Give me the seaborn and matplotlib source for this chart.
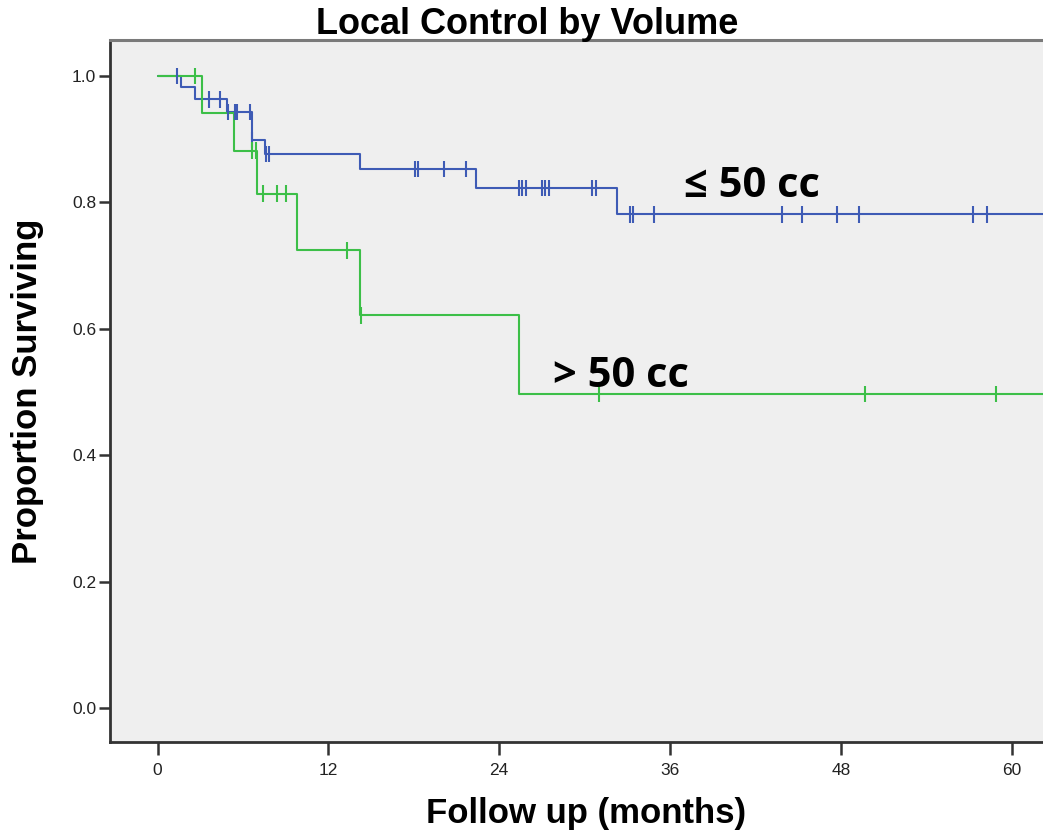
import numpy as np
import pandas as pd
import matplotlib
matplotlib.use("Agg")
import matplotlib.pyplot as plt
import seaborn as sns

# ---- data ----
group_names = ["≤ 50 cc", "> 50 cc"]

small_event_t = [0, 1.65, 2.6, 4.85, 6.6, 7.55, 14.2, 22.4, 32.3, 62.5]
small_surv = [1.0, 0.982, 0.963, 0.943, 0.899, 0.877, 0.853, 0.823, 0.781, 0.781]
small_cens = [1.4, 3.6, 4.4, 4.95, 5.45, 5.55, 6.5, 6.65, 7.65, 7.8,
              18.1, 18.3, 20.1, 21.7, 25.4, 25.6, 25.9, 27.0, 27.2, 27.5,
              30.5, 30.8, 33.2, 33.4, 34.9, 43.9, 45.3, 47.7, 49.3, 57.3, 58.3]

large_event_t = [0, 3.1, 5.4, 7.0, 9.8, 14.2, 25.4, 62.5]
large_surv = [1.0, 0.941, 0.882, 0.814, 0.724, 0.621, 0.497, 0.497]
large_cens = [2.6, 6.6, 6.9, 7.4, 8.4, 9.0, 13.3, 14.3, 31.0, 49.7, 58.9]

x_ticks = [0, 12, 24, 36, 48, 60]
y_ticks = [0.0, 0.2, 0.4, 0.6, 0.8, 1.0]

title = "Local Control by Volume"
x_label = "Follow up (months)"
y_label = "Proportion Surviving"

palette = {"≤ 50 cc": "#3E5BB5", "> 50 cc": "#3CBF48"}


def step_value(t, s, x):
    t = np.asarray(t)
    s = np.asarray(s)
    idx = np.searchsorted(t, x, side="right") - 1
    return s[idx]


curve_df = pd.concat([
    pd.DataFrame({"t": small_event_t, "s": small_surv, "g": group_names[0]}),
    pd.DataFrame({"t": large_event_t, "s": large_surv, "g": group_names[1]}),
], ignore_index=True)

cens_df = pd.concat([
    pd.DataFrame({"t": small_cens,
                  "s": step_value(small_event_t, small_surv, small_cens),
                  "g": group_names[0]}),
    pd.DataFrame({"t": large_cens,
                  "s": step_value(large_event_t, large_surv, large_cens),
                  "g": group_names[1]}),
], ignore_index=True)

sns.set_style("ticks")
plt.rcParams["font.family"] = ["Liberation Sans", "DejaVu Sans"]
plt.rcParams["text.color"] = "black"
plt.rcParams["axes.labelcolor"] = "black"

fig = plt.figure(figsize=(10.43, 8.35), dpi=100)
ax = fig.add_axes([110 / 1043, 1 - 742 / 835, 1 - 110 / 1043, (742 - 40) / 835])
ax.set_facecolor("#EFEFEF")

for g in group_names:
    sub = curve_df[curve_df["g"] == g]
    sns.lineplot(data=sub, x="t", y="s", ax=ax, color=palette[g],
                 drawstyle="steps-post", estimator=None, sort=False,
                 linewidth=1.5, legend=False)

sns.scatterplot(data=cens_df, x="t", y="s", hue="g", palette=palette,
                marker="|", s=140, linewidths=1.5, ax=ax, legend=False,
                zorder=3)

ax.set_xlim(-3.34, 62.2)
ax.set_ylim(-0.054, 1.057)
ax.set_xticks(x_ticks)
ax.set_yticks(y_ticks)
ax.set_xticklabels([str(v) for v in x_ticks])
ax.set_yticklabels([f"{v:.1f}" for v in y_ticks])

for lab in ax.get_xticklabels() + ax.get_yticklabels():
    lab.set_fontfamily(["Liberation Sans Narrow", "Liberation Sans"])
    lab.set_fontsize(12.5)
    lab.set_color("#222222")

ax.tick_params(axis="x", length=9, width=1.8, color="#333333", pad=6)
ax.tick_params(axis="y", length=8, width=1.8, color="#333333", pad=2)

for side in ["left", "bottom"]:
    ax.spines[side].set_color("#333333")
    ax.spines[side].set_linewidth(2.0)
ax.spines["top"].set_color("#7a7a7a")
ax.spines["top"].set_linewidth(2.2)
ax.spines["right"].set_visible(False)

ax.set_xlabel(x_label, fontsize=25, fontweight="bold")
ax.set_ylabel(y_label, fontsize=25, fontweight="bold")
ax.yaxis.set_label_coords(-0.071, 0.5)
ax.xaxis.set_label_coords(0.510, -0.079)

fig.text(527 / 1043, 1 - 25 / 835, title, ha="center", va="center",
         fontsize=26, fontweight="bold", color="black")

ax.text(37.0, 0.8085, group_names[0], fontsize=30, fontweight="bold",
        family=["Open Sans", "DejaVu Sans"], ha="left", va="baseline",
        color="black")
ax.text(27.8, 0.508, group_names[1], fontsize=30, fontweight="bold",
        family=["Open Sans", "DejaVu Sans"], ha="left", va="baseline",
        color="black")

fig.savefig("out.png", dpi=100)
